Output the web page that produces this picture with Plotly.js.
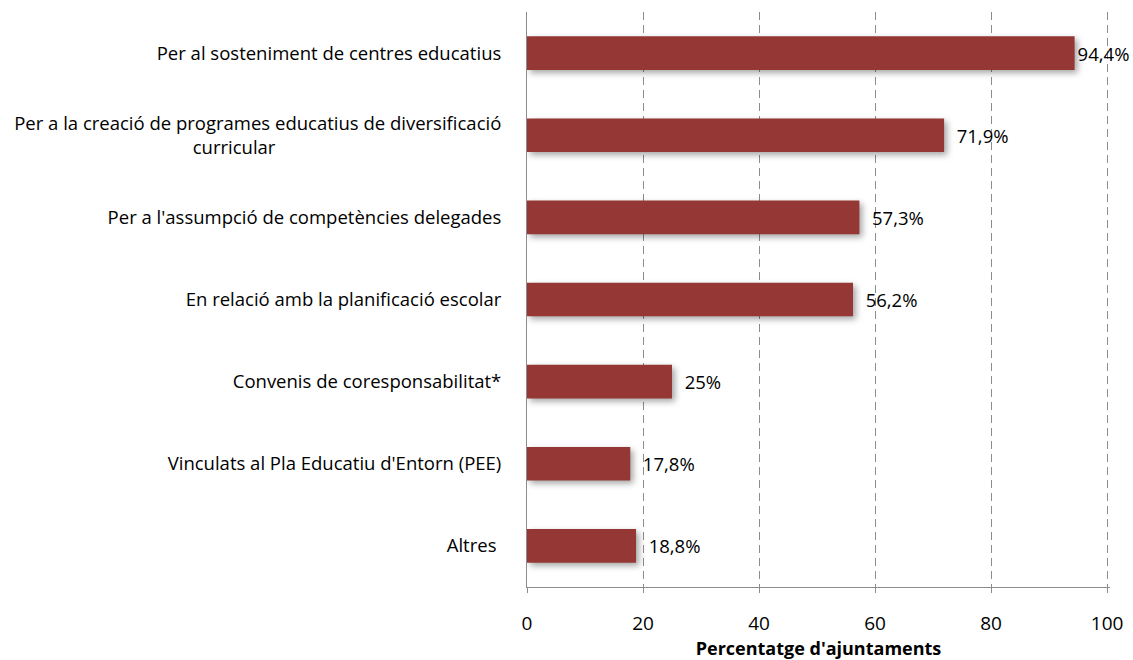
<!DOCTYPE html>
<html><head><meta charset="utf-8">
<script src="https://cdn.plot.ly/plotly-3.0.1.min.js"></script>
<style>
html,body{margin:0;padding:0;background:#fff;}
#chart{width:1133px;height:660px;}
.trace.bars .point path{filter:drop-shadow(3px 3px 3px rgba(0,0,0,0.35));}
</style></head>
<body><div id="chart"></div>
<script>
const categories = [
  "Per al sosteniment de centres educatius",
  "Per a la creació de programes educatius de diversificació curricular",
  "Per a l'assumpció de competències delegades",
  "En relació amb la planificació escolar",
  "Convenis de coresponsabilitat*",
  "Vinculats al Pla Educatiu d'Entorn (PEE)",
  "Altres"
];
const tickLabels = [
  "Per al sosteniment de centres educatius",
  "Per a la creació de programes educatius de diversificació<br>curricular" + "\u00a0".repeat(47),
  "Per a l'assumpció de competències delegades",
  "En relació amb la planificació escolar",
  "Convenis de coresponsabilitat*",
  "Vinculats al Pla Educatiu d'Entorn (PEE)",
  "Altres\u00a0"
];
const values = [94.4, 71.9, 57.3, 56.2, 25, 17.8, 18.8];
const valueLabels = ["94,4%", "  71,9%", "  57,3%", "  56,2%", "  25%", "  17,8%", "  18,8%"];

const font = "Open Sans, Noto Sans, sans-serif";
Plotly.newPlot("chart", [{
  type: "bar",
  orientation: "h",
  y: categories,
  x: values,
  text: valueLabels,
  textposition: "outside",
  cliponaxis: false,
  constraintext: "none",
  textfont: {family: font, size: 18.5, color: "#000"},
  marker: {color: "#953735"},
  width: 0.41,
  hoverinfo: "none"
}], {
  width: 1133, height: 660,
  margin: {l: 527, r: 23, t: 12, b: 73},
  paper_bgcolor: "#fff", plot_bgcolor: "#fff",
  showlegend: false,
  font: {family: font, size: 18.5, color: "#000"},
  xaxis: {
    range: [0, 100.5], tickvals: [0, 20, 40, 60, 80, 100],
    showgrid: true, gridcolor: "#8c8c8c", griddash: "8px,5px", gridwidth: 1,
    zeroline: false,
    showline: true, linecolor: "#8c8c8c", linewidth: 1,
    ticks: "outside", ticklen: 5, tickcolor: "#8c8c8c",
    ticklabelstandoff: 14,
    tickfont: {family: font, size: 19, color: "#000"},
    title: {text: "<b>Percentatge d'ajuntaments</b>", font: {family: font, size: 18, color: "#000"}, standoff: 2}
  },
  yaxis: {
    type: "category",
    categoryarray: categories,
    tickvals: categories,
    ticktext: tickLabels,
    autorange: "reversed",
    showgrid: false, zeroline: false,
    showline: true, linecolor: "#8c8c8c", linewidth: 1,
    ticks: "", ticklabelstandoff: 21,
    tickfont: {family: font, size: 18.5, color: "#000"}
  }
}, {displayModeBar: false, staticPlot: true});
</script></body></html>
